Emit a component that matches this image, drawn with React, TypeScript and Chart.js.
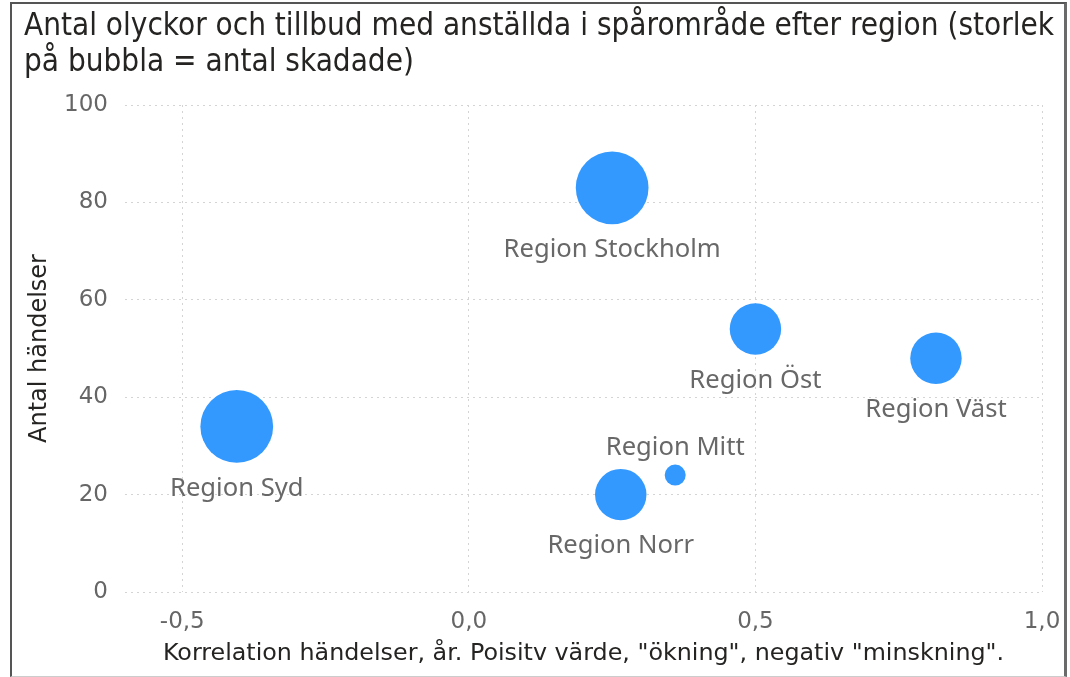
import React, { useEffect, useRef } from "react";
import { Chart, registerables } from "chart.js";

Chart.register(...registerables);

// ---- Data ----
const regions = [
  "Region Stockholm",
  "Region Öst",
  "Region Väst",
  "Region Syd",
  "Region Norr",
  "Region Mitt",
];
const korrelation = [0.25, 0.5, 0.815, -0.405, 0.265, 0.36];
const antalHandelser = [83, 54, 48, 34, 20, 24];
const antalSkadade = [12, 6, 6, 12, 6, 1];

const xTicks = [-0.5, 0, 0.5, 1.0];
const yTicks = [0, 20, 40, 60, 80, 100];

const titleLines = [
  "Antal olyckor och tillbud med anställda i spårområde efter region (storlek",
  "på bubbla = antal skadade)",
];
const xTitle = 'Korrelation händelser, år. Poisitv värde, "ökning", negativ "minskning".';
const yTitle = "Antal händelser";

// labels drawn above the bubble instead of below
const labelsAbove = new Set(["Region Mitt"]);

const DINC = '"DejaVu Sans Condensed", "DejaVu Sans", sans-serif';
const DIN = '"DejaVu Sans", sans-serif';

const titlePlugin = {
  id: "leftTitle",
  afterDraw(chart: any) {
    const ctx = chart.ctx;
    ctx.save();
    ctx.font = `31.2px ${DINC}`;
    ctx.fillStyle = "#252423";
    ctx.textAlign = "left";
    ctx.textBaseline = "alphabetic";
    titleLines.forEach((line, i) => {
      ctx.fillText(line, 24, 35 + i * 35.5);
    });
    ctx.restore();
  },
};

const bubbleLabelPlugin = {
  id: "bubbleLabels",
  afterDatasetsDraw(chart: any) {
    const meta = chart.getDatasetMeta(0);
    const ctx = chart.ctx;
    ctx.save();
    ctx.font = '25.6px "Noto Sans", sans-serif';
    ctx.fillStyle = "#686868";
    ctx.textAlign = "center";
    ctx.textBaseline = "alphabetic";
    meta.data.forEach((el: any, i: number) => {
      const r = el.options.radius;
      const name = regions[i];
      if (labelsAbove.has(name)) {
        ctx.fillText(name, el.x, el.y - r - 10);
      } else {
        ctx.fillText(name, el.x, el.y + r + 33);
      }
    });
    ctx.restore();
  },
};

export default function App() {
  const canvasRef = useRef<HTMLCanvasElement | null>(null);

  useEffect(() => {
    if (!canvasRef.current) return;
    const data = regions.map((_, i) => ({
      x: korrelation[i],
      y: antalHandelser[i],
      r: 10.5 * Math.sqrt(antalSkadade[i]),
    }));
    const chart = new Chart(canvasRef.current, {
      type: "bubble",
      data: {
        datasets: [
          {
            label: "Regioner",
            data,
            backgroundColor: "#3399FF",
            borderColor: "#3399FF",
            borderWidth: 0,
            hoverRadius: 0,
          },
        ],
      },
      plugins: [bubbleLabelPlugin, titlePlugin],
      options: {
        responsive: false,
        animation: false,
        events: [],
        layout: { autoPadding: false, padding: { left: 24, right: 28, top: 105, bottom: 0 } },
        plugins: {
          legend: { display: false },
          tooltip: { enabled: false },
          title: { display: false },
        },
        scales: {
          x: {
            type: "linear",
            min: -0.6,
            max: 1.0,
            afterBuildTicks: (s: any) => {
              s.ticks = xTicks.map((v) => ({ value: v }));
            },
            afterFit: (s: any) => {
              s.height = 85;
              s.paddingLeft = 0;
              s.paddingRight = 0;
            },
            grid: { color: "#D4D4D4", lineWidth: 1, drawTicks: false },
            border: { display: false, dash: [2, 4] },
            ticks: {
              padding: 16,
              color: "#666666",
              font: { family: DIN, size: 23 },
              callback: (v: any) => Number(v).toFixed(1).replace(".", ","),
            },
            title: {
              display: true,
              text: xTitle,
              color: "#252423",
              font: { family: DIN, size: 23.8 },
              padding: { top: 0, bottom: 9 },
            },
          },
          y: {
            type: "linear",
            min: 0,
            max: 100,
            afterBuildTicks: (s: any) => {
              s.ticks = yTicks.map((v) => ({ value: v }));
            },
            afterFit: (s: any) => {
              s.width = 101;
              s.paddingTop = 0;
              s.paddingBottom = 0;
            },
            grid: { color: "#D4D4D4", lineWidth: 1, drawTicks: false },
            border: { display: false, dash: [2, 4] },
            ticks: {
              padding: 17,
              color: "#666666",
              font: { family: DIN, size: 23 },
            },
            title: {
              display: true,
              text: yTitle,
              color: "#252423",
              font: { family: DIN, size: 24 },
              padding: { top: 1, bottom: 0 },
            },
          },
        },
      },
    } as any);
    return () => chart.destroy();
  }, []);

  return (
    <div
      style={{
        position: "absolute",
        left: 0,
        top: 0,
        width: 1070,
        height: 677,
        background: "#ffffff",
        overflow: "hidden",
      }}
    >
      <canvas ref={canvasRef} width={1070} height={677} style={{ display: "block" }} />
      <div
        style={{
          position: "absolute",
          left: 10,
          top: 2,
          width: 1057,
          height: 675,
          boxSizing: "border-box",
          borderLeft: "2px solid #555555",
          borderTop: "2px solid #555555",
          borderRight: "3px solid #6a6a6a",
          borderBottom: "1px solid #cccccc",
          pointerEvents: "none",
        }}
      />
    </div>
  );
}
